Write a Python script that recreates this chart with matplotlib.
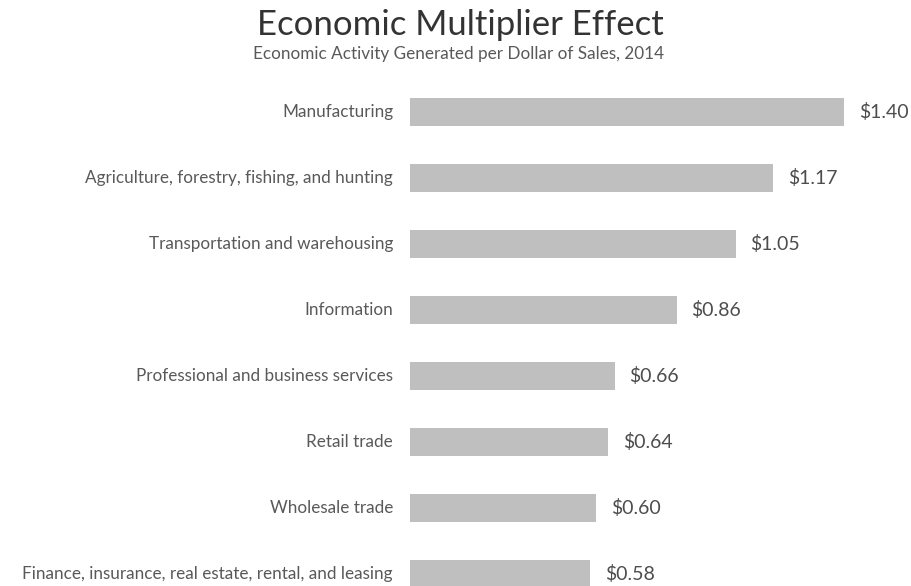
import matplotlib
matplotlib.use("Agg")
import matplotlib.pyplot as plt

plt.rcParams['font.family'] = ['Lato', 'DejaVu Sans']

# multiplier per dollar of sales, 2014
industries = [
    "Manufacturing",
    "Agriculture, forestry, fishing, and hunting",
    "Transportation and warehousing",
    "Information",
    "Professional and business services",
    "Retail trade",
    "Wholesale trade",
    "Finance, insurance, real estate, rental, and leasing",
]
multipliers = [1.40, 1.17, 1.05, 0.86, 0.66, 0.64, 0.60, 0.58]

W, H = 911, 586
PX_PER_DOLLAR = 310.0
fig = plt.figure(figsize=(W / 100, H / 100), dpi=100)
fig.patch.set_facecolor("white")

# axes placed in pixel terms: bars start at x=410, rows 66 px apart
ax = fig.add_axes([410 / W, 0, (W - 410) / W, (H - 80) / H])
ypos = list(range(len(industries)))
ax.barh(ypos, multipliers, height=0.41, color="#bfbfbf", edgecolor="none")
ax.set_xlim(0, (W - 410) / PX_PER_DOLLAR)
ax.set_ylim((H - 112) / 66, (80 - 112) / 66)
ax.axis("off")

for y, name, val in zip(ypos, industries, multipliers):
    ax.text(-17 / PX_PER_DOLLAR, y, name, ha="right", va="center",
            fontsize=12.3, color="#595959")
    ax.text(val + 15 / PX_PER_DOLLAR, y, "$%.2f" % val, ha="left",
            va="center", fontsize=14, color="#4d4d4d")

fig.text(460 / W, 1 - 25 / H, "Economic Multiplier Effect", ha="center",
         va="center", fontsize=25, color="#333333")
fig.text(459 / W, 1 - 54 / H,
         "Economic Activity Generated per Dollar of Sales, 2014",
         ha="center", va="center", fontsize=12.3, color="#595959")

fig.savefig("out.png", dpi=100)
